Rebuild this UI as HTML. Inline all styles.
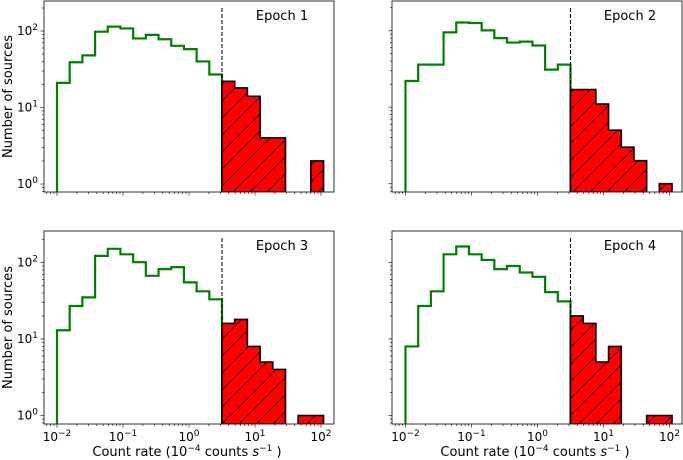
<!DOCTYPE html>
<html><head><meta charset="utf-8"><style>
body{margin:0;background:#fff}
svg{display:block;font-family:"DejaVu Sans","Liberation Sans",sans-serif}
</style></head><body>
<svg id="fig" width="683" height="460" viewBox="0 0 683 460" xmlns="http://www.w3.org/2000/svg">
<defs>
<pattern id="hatch" patternUnits="userSpaceOnUse" width="17" height="17">
<rect width="17" height="17" fill="#ff0000"/>
<path d="M-4,4 L4,-4 M0,17 L17,0 M13,21 L21,13" stroke="#000" stroke-width="0.7"/>
</pattern>
</defs>
</svg>
<script>
// bins: uniform in log10 space
const binStart = -2;
const binWidth = 2.5 / 13;
const nGreen = 13;
const threshold = 0.5; // log10 of dashed line (~3.16)
const epochLabels = ["Epoch 1", "Epoch 2", "Epoch 3", "Epoch 4"];
const green1 = [21, 39, 48, 98, 114, 108, 80, 89, 78, 64, 58, 40, 27];
const red1 = [22, 18, 14, 4, 4, 0, 0, 2];
const green2 = [22, 36, 36, 95, 128, 126, 101, 80, 70, 72, 64, 31, 36];
const red2 = [17, 17, 11, 5, 3, 2, 0, 1];
const green3 = [13, 27, 35, 122, 151, 128, 101, 67, 82, 87, 55, 42, 33];
const red3 = [16, 18, 8, 5, 4, 0, 1, 1];
const green4 = [8, 27, 42, 128, 162, 128, 108, 82, 90, 74, 65, 41, 31];
const red4 = [20, 16, 5, 8, 0, 0, 1, 1];
const xTicks = [-2, -1, 0, 1, 2];
const yTicks = [0, 1, 2];

const greens = [green1, green2, green3, green4];
const reds = [red1, red2, red3, red4];
const panels = [
  {l:44, r:334, t:1, b:192, xl0:57, y0:184, showX:false, showY:true},
  {l:392, r:682, t:1, b:192, xl0:405.5, y0:183.7, showX:false, showY:false},
  {l:44, r:334, t:231, b:424, xl0:57, y0:415.5, showX:true, showY:true},
  {l:392, r:682, t:231, b:424, xl0:405.5, y0:415.5, showX:true, showY:false}
];
const NS = "http://www.w3.org/2000/svg";
const svg = document.getElementById("fig");
function mk(tag, attrs, parent){const e=document.createElementNS(NS,tag);for(const k in attrs)e.setAttribute(k,attrs[k]);(parent||svg).appendChild(e);return e;}

panels.forEach((p, i) => {
  const g = mk("g", {});
  
  
  const X = lv => p.xl0 + 66 * (lv + 2);
  const Y = v => p.y0 - 76.5 * Math.log10(v);
  const clip = mk("clipPath", {id:"c"+i}, g);
  mk("rect", {x:p.l, y:p.t, width:p.r-p.l, height:p.b-p.t}, clip);
  const inner = mk("g", {"clip-path":"url(#c"+i+")"}, g);
  // green step
  const gv = greens[i];
  let d = "M" + X(binStart) + "," + (p.b + 5);
  gv.forEach((v, k) => {
    const y = v > 0 ? Y(v) : p.b + 5;
    d += " L" + X(binStart + k*binWidth) + "," + y + " L" + X(binStart + (k+1)*binWidth) + "," + y;
  });
  d += " L" + X(binStart + nGreen*binWidth) + "," + (p.b + 5);
  const gp = mk("path", {d:d, fill:"none", stroke:"#008000", "stroke-width":2.2}, inner);
  
  
  // red stepfilled runs
  const rv = reds[i];
  let k = 0;
  while (k < rv.length) {
    if (rv[k] <= 0) { k++; continue; }
    let rd = "M" + X(threshold + k*binWidth) + "," + p.b;
    while (k < rv.length && rv[k] > 0) {
      rd += " L" + X(threshold + k*binWidth) + "," + Y(rv[k]) + " L" + X(threshold + (k+1)*binWidth) + "," + Y(rv[k]);
      k++;
    }
    rd += " L" + X(threshold + k*binWidth) + "," + p.b + " Z";
    const rp = mk("path", {d:rd, fill:"url(#hatch)", stroke:"#000", "stroke-width":1.6}, inner);
    
    
  }
  // dashed threshold
  const dl = mk("line", {x1:X(threshold), x2:X(threshold), y1:p.t+7, y2:p.b, stroke:"#000", "stroke-width":1, "stroke-dasharray":"4,2"}, g);
  
  
  // frame
  mk("rect", {x:p.l, y:p.t, width:p.r-p.l, height:p.b-p.t, fill:"none", stroke:"#333", "stroke-width":1}, g);
  // x ticks
  for (let dec = -3; dec <= 2; dec++) {
    for (let m = 1; m < 10; m++) {
      const lv = dec + Math.log10(m);
      const x = X(lv);
      if (x < p.l || x > p.r) continue;
      mk("line", {x1:x, x2:x, y1:p.b, y2:p.b + (m===1?3.5:2), stroke:"#333", "stroke-width":0.8}, g);
    }
  }
  if (p.showX) {
    xTicks.forEach(t => {
      const tx = mk("text", {x:X(t), y:p.b+17, "text-anchor":"middle", "font-size":12, fill:"#000"}, g);
      
      
      tx.innerHTML = '10<tspan dy="-5" font-size="9">' + (t<0 ? '\u2212'+(-t) : t) + '</tspan>';
    });
    const xl = mk("text", {x:(p.l+p.r)/2 - 2, y:456, "text-anchor":"middle", "font-size":13, fill:"#000"}, g);
    
    
    xl.innerHTML = 'Count rate (10<tspan dy="-5" font-size="9">\u22124</tspan><tspan dy="5"> counts </tspan><tspan font-style="italic">s</tspan><tspan dy="-5" font-size="9">\u22121</tspan><tspan dy="5"> )</tspan>';
  }
  // y ticks
  for (let dec = -1; dec <= 2; dec++) {
    for (let m = 1; m < 10; m++) {
      const y = p.y0 - 76.5 * (dec + Math.log10(m));
      if (y < p.t || y > p.b) continue;
      mk("line", {x1:p.l - (m===1?3.5:2), x2:p.l, y1:y, y2:y, stroke:"#333", "stroke-width":0.8}, g);
    }
  }
  if (p.showY) {
    yTicks.forEach(t => {
      const ty = mk("text", {x:p.l-6, y:p.y0 - 76.5*t + 4, "text-anchor":"end", "font-size":12, fill:"#000"}, g);
      
      
      ty.innerHTML = '10<tspan dy="-5" font-size="9">' + t + '</tspan>';
    });
    const yl = mk("text", {x:0, y:0, "text-anchor":"middle", "font-size":13, fill:"#000", transform:"translate(12," + ((p.t+p.b)/2) + ") rotate(-90)"}, g);
    
    
    yl.textContent = "Number of sources";
  }
  const et = mk("text", {x:p.l + 238, y:p.t + 19, "text-anchor":"middle", "font-size":13, fill:"#000"}, g);
  
  
  et.textContent = epochLabels[i];
});
</script>
</body></html>
